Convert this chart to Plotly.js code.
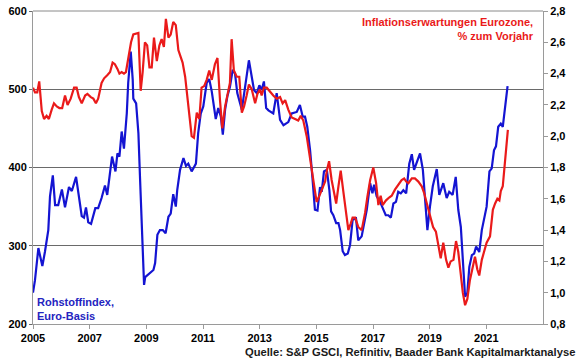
<!DOCTYPE html>
<html>
<head>
<meta charset="utf-8">
<script src="https://cdn.plot.ly/plotly-3.0.1.min.js"></script>
<style>
  html, body { margin: 0; padding: 0; background: #fff; }
  #chart { width: 580px; height: 359px; }
</style>
</head>
<body>
<div id="chart"></div>
<script>
// Rohstoffindex (S&P GSCI, Euro-Basis) - left axis
const blueYears = [2005.00,2005.07,2005.19,2005.33,2005.42,2005.54,2005.60,2005.70,2005.78,2005.89,
  2006.02,2006.13,2006.27,2006.37,2006.52,2006.60,2006.72,2006.80,2006.87,2006.95,
  2007.05,2007.20,2007.30,2007.42,2007.54,2007.62,2007.72,2007.79,2007.91,2007.98,
  2008.05,2008.13,2008.21,2008.31,2008.36,2008.45,2008.52,2008.54,2008.64,2008.72,2008.78,2008.85,2008.92,2008.96,
  2009.07,2009.25,2009.31,2009.39,2009.48,2009.58,2009.68,2009.78,2009.86,2009.95,
  2010.04,2010.09,2010.19,2010.31,2010.40,2010.48,2010.60,2010.75,2010.83,2010.92,
  2011.01,2011.13,2011.22,2011.31,2011.45,2011.54,2011.63,2011.70,2011.78,2011.86,2011.95,
  2012.05,2012.13,2012.21,2012.37,2012.51,2012.62,2012.72,2012.80,2012.90,2012.99,
  2013.07,2013.15,2013.23,2013.31,2013.48,2013.60,2013.72,2013.84,
  2014.01,2014.13,2014.31,2014.42,2014.52,2014.60,2014.68,2014.78,2014.86,2014.95,
  2015.04,2015.13,2015.19,2015.27,2015.37,2015.46,2015.52,2015.60,2015.70,2015.78,2015.84,2015.93,
  2016.01,2016.11,2016.19,2016.28,2016.40,2016.48,2016.60,2016.68,2016.78,2016.90,2016.98,
  2017.04,2017.13,2017.25,2017.34,2017.45,2017.54,2017.63,2017.72,2017.81,2017.89,2017.98,
  2018.07,2018.17,2018.28,2018.37,2018.45,2018.54,2018.66,2018.76,2018.84,2018.92,
  2019.01,2019.11,2019.25,2019.34,2019.48,2019.60,2019.69,2019.81,2019.92,
  2020.01,2020.10,2020.19,2020.25,2020.33,2020.40,2020.49,2020.57,2020.64,2020.70,2020.75,2020.84,2020.92,
  2021.01,2021.11,2021.19,2021.27,2021.34,2021.42,2021.51,2021.58,2021.66,2021.75];
const blueValues = [240,256,297,274,292,320,363,390,352,352,
  372,349,375,370,388,367,338,336,349,330,
  328,348,348,361,377,365,395,414,395,418,
  414,446,424,469,508,548,512,488,482,444,384,320,250,260,
  263,269,278,314,320,320,316,337,341,366,
  350,371,397,412,402,405,395,405,444,469,
  478,508,513,497,462,476,465,442,474,491,503,
  525,520,495,474,512,537,516,499,495,505,
  499,510,476,473,469,495,461,454,
  458,469,471,480,465,465,452,422,388,346,
  345,375,369,395,397,371,344,339,329,329,320,293,
  288,290,301,333,335,307,312,327,346,380,367,
  378,363,356,348,339,339,336,354,356,369,367,
  371,367,405,417,397,405,418,397,363,320,
  350,376,398,365,380,361,369,365,388,
  346,324,262,235,240,273,288,290,299,295,292,320,333,
  350,395,399,422,427,452,456,452,478,504];

// Inflationserwartungen Eurozone, % zum Vorjahr - right axis
const redYears = [2005.00,2005.07,2005.15,2005.22,2005.31,2005.39,2005.48,2005.56,2005.66,2005.74,2005.84,2005.93,
  2006.03,2006.13,2006.22,2006.33,2006.45,2006.54,2006.62,2006.72,2006.84,2006.92,
  2007.04,2007.13,2007.22,2007.30,2007.42,2007.51,2007.62,2007.72,2007.81,2007.89,2007.98,
  2008.05,2008.13,2008.21,2008.28,2008.36,2008.46,2008.54,2008.66,2008.72,2008.80,2008.87,2008.95,
  2009.03,2009.11,2009.19,2009.27,2009.37,2009.46,2009.54,2009.62,2009.69,2009.78,2009.86,2009.95,
  2010.04,2010.13,2010.19,2010.28,2010.37,2010.45,2010.52,2010.60,2010.68,2010.78,2010.87,2010.95,
  2011.04,2011.13,2011.22,2011.31,2011.42,2011.51,2011.60,2011.68,2011.78,2011.89,2011.95,
  2012.01,2012.09,2012.19,2012.28,2012.37,2012.45,2012.54,2012.62,2012.72,2012.84,2012.92,
  2013.01,2013.07,2013.15,2013.25,2013.34,2013.48,2013.60,2013.72,2013.81,2013.90,
  2014.01,2014.13,2014.25,2014.36,2014.45,2014.54,2014.66,2014.75,2014.84,2014.92,
  2015.01,2015.11,2015.19,2015.31,2015.37,2015.45,2015.54,2015.62,2015.70,2015.78,2015.86,2015.95,
  2016.05,2016.13,2016.21,2016.28,2016.37,2016.48,2016.60,2016.72,2016.80,2016.90,
  2017.01,2017.11,2017.19,2017.27,2017.34,2017.46,2017.58,2017.66,2017.78,2017.89,
  2018.01,2018.10,2018.17,2018.25,2018.37,2018.48,2018.60,2018.72,2018.80,2018.90,2018.99,
  2019.12,2019.22,2019.31,2019.39,2019.48,2019.58,2019.66,2019.74,2019.84,2019.93,
  2020.01,2020.10,2020.17,2020.25,2020.33,2020.42,2020.52,2020.60,2020.68,2020.75,2020.84,2020.92,
  2021.01,2021.13,2021.23,2021.31,2021.39,2021.46,2021.51,2021.58,2021.62,2021.66,2021.72,2021.76];
const redValues = [2.31,2.28,2.28,2.35,2.16,2.11,2.13,2.11,2.17,2.21,2.19,2.18,
  2.18,2.26,2.20,2.24,2.31,2.31,2.25,2.21,2.26,2.27,
  2.25,2.24,2.21,2.24,2.34,2.37,2.39,2.41,2.47,2.46,2.43,
  2.40,2.41,2.40,2.41,2.50,2.60,2.65,2.66,2.66,2.29,2.41,2.60,
  2.58,2.44,2.44,2.63,2.48,2.58,2.62,2.57,2.75,2.63,2.65,2.73,
  2.71,2.55,2.52,2.47,2.38,2.24,2.14,2.00,1.99,2.15,2.11,2.31,
  2.32,2.36,2.42,2.36,2.46,2.50,2.23,2.05,2.19,2.28,2.34,
  2.62,2.42,2.38,2.38,2.15,2.19,2.26,2.33,2.30,2.21,2.27,
  2.30,2.26,2.31,2.31,2.29,2.26,2.24,2.25,2.21,2.23,
  2.17,2.12,2.11,2.10,2.13,2.10,2.00,1.89,1.81,1.70,
  1.58,1.62,1.66,1.71,1.78,1.84,1.72,1.65,1.57,1.68,1.78,1.65,
  1.51,1.40,1.44,1.48,1.48,1.42,1.40,1.51,1.61,1.72,
  1.80,1.70,1.56,1.62,1.56,1.59,1.61,1.62,1.66,1.69,
  1.72,1.73,1.71,1.70,1.73,1.73,1.71,1.68,1.64,1.57,1.51,
  1.42,1.39,1.29,1.22,1.32,1.21,1.16,1.20,1.21,1.33,
  1.26,1.10,1.00,0.92,0.96,1.08,1.16,1.23,1.15,1.11,1.21,1.26,
  1.32,1.36,1.53,1.57,1.60,1.59,1.65,1.68,1.75,1.85,1.96,2.04];

const xTickVals = [2005, 2007, 2009, 2011, 2013, 2015, 2017, 2019, 2021];
const xTickText = ['2005', '2007', '2009', '2011', '2013', '2015', '2017', '2019', '2021'];
const leftTicks = [200, 300, 400, 500, 600];
const rightTicks = [0.8, 1.0, 1.2, 1.4, 1.6, 1.8, 2.0, 2.2, 2.4, 2.6, 2.8];

const blueName = 'Rohstoffindex,<br>Euro-Basis';
const redName = 'Inflationserwartungen Eurozone,<br>% zum Vorjahr';
const sourceText = 'Quelle: S&P GSCI, Refinitiv, Baader Bank Kapitalmarktanalyse';

const BLUE = '#1414d2';
const RED = '#ea1a1a';
const GRID = '#6a6a6a';
const FONT = 'Liberation Sans, Arial, sans-serif';

const traces = [
  { x: blueYears, y: blueValues, type: 'scatter', mode: 'lines', name: 'Rohstoffindex',
    line: { color: BLUE, width: 2.2 }, yaxis: 'y' },
  { x: redYears, y: redValues, type: 'scatter', mode: 'lines', name: 'Inflationserwartungen',
    line: { color: RED, width: 2.2 }, yaxis: 'y2' }
];

const tickFont = { family: FONT, size: 11, color: '#000', weight: 'bold' };

const layout = {
  width: 580, height: 359,
  margin: { l: 33, r: 37, t: 11, b: 35, pad: 0 },
  paper_bgcolor: '#fff', plot_bgcolor: '#fff',
  showlegend: false,
  separators: ', ',
  font: { family: FONT, size: 11, color: '#000', weight: 'bold' },
  xaxis: {
    range: [2005, 2023], tickmode: 'array', tickvals: xTickVals, ticktext: xTickText,
    showgrid: false, zeroline: false, showline: true, linecolor: '#9a9a9a', linewidth: 1,
    ticks: 'outside', ticklen: 4, tickcolor: '#9a9a9a', tickfont: tickFont
  },
  yaxis: {
    range: [200, 600], tickmode: 'array', tickvals: leftTicks,
    showgrid: true, gridcolor: GRID, gridwidth: 1, zeroline: false,
    showline: true, linecolor: '#9a9a9a', linewidth: 1,
    ticks: 'outside', ticklen: 3, tickcolor: GRID, tickfont: tickFont
  },
  yaxis2: {
    range: [0.8, 2.8], tickmode: 'array', tickvals: rightTicks, tickformat: '.1f',
    overlaying: 'y', side: 'right', showgrid: false, zeroline: false,
    showline: true, linecolor: '#9a9a9a', linewidth: 1,
    ticks: 'outside', ticklen: 4, tickcolor: '#9a9a9a', tickfont: tickFont
  },
  shapes: [
    { type: 'line', xref: 'paper', yref: 'paper', x0: 0, x1: 1, y0: 1, y1: 1,
      line: { color: '#8a8a8a', width: 1 } }
  ],
  annotations: [
    { xref: 'paper', yref: 'paper', x: 0.986, y: 0.992, xanchor: 'right', yanchor: 'top',
      align: 'right', showarrow: false, text: redName,
      font: { family: FONT, size: 11, color: RED, weight: 'bold' } },
    { xref: 'paper', yref: 'paper', x: 0.004, y: 0.0, xanchor: 'left', yanchor: 'bottom',
      align: 'left', showarrow: false, text: blueName,
      font: { family: FONT, size: 11, color: '#2424c0', weight: 'bold' } },
    { xref: 'paper', yref: 'paper', x: 1.066, y: -0.089, xanchor: 'right', yanchor: 'middle',
      align: 'right', showarrow: false, text: sourceText,
      font: { family: FONT, size: 11.2, color: '#1a1a1a', weight: 'bold' } }
  ]
};

Plotly.newPlot('chart', traces, layout, { displayModeBar: false, staticPlot: true });
</script>
</body>
</html>
